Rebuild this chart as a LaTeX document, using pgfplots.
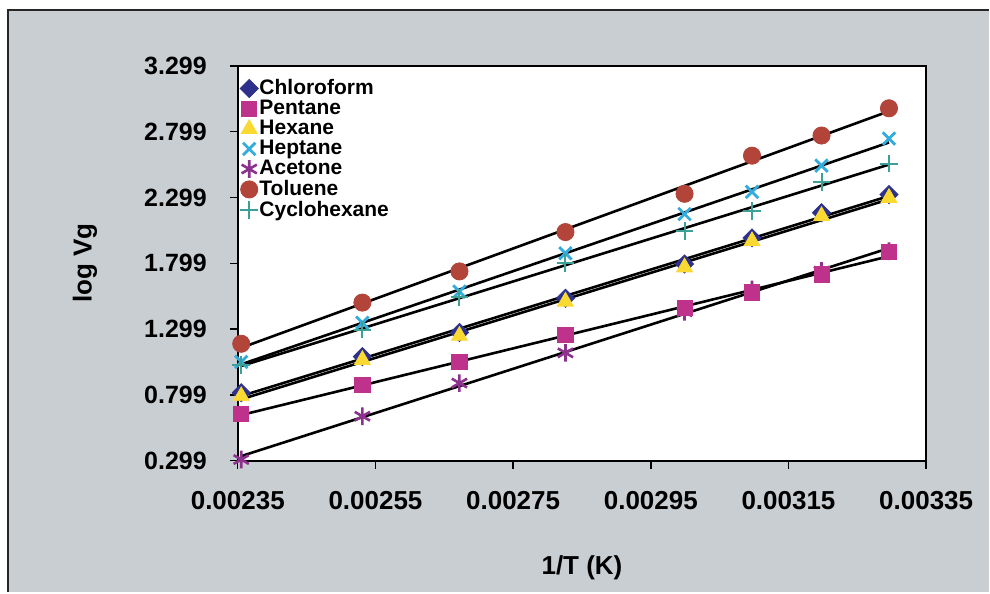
\documentclass[border=0pt]{standalone}
\usepackage{pgfplots}
\usepackage{pgfplotstable}
\pgfplotsset{compat=1.18}
\usepackage{fontspec}
\setmainfont{Liberation Sans}

\definecolor{bggray}{RGB}{201,206,211}
\definecolor{chlc}{RGB}{46,49,140}
\definecolor{penc}{RGB}{190,50,140}
\definecolor{hexc}{RGB}{250,218,50}
\definecolor{hepc}{RGB}{50,172,220}
\definecolor{acec}{RGB}{140,50,140}
\definecolor{tolc}{RGB}{178,68,58}
\definecolor{cycc}{RGB}{60,160,150}

% 1/T and log Vg for each solvent
\pgfplotstableread{
x        chl    pen    hex    hep    ace    tol    cyc
0.002355 0.814  0.651  0.789  1.049  0.307  1.187  1.026
0.002531 1.089  0.873  1.064  1.347  0.636  1.500  1.294
0.002672 1.273  1.049  1.248  1.584  0.888  1.737  1.539
0.002826 1.533  1.255  1.508  1.875  1.118  2.036  1.799
0.002999 1.793  1.462  1.768  2.173  1.430  2.327  2.043
0.003097 1.992  1.577  1.967  2.342  1.600  2.617  2.196
0.003198 2.183  1.714  2.158  2.541  1.740  2.770  2.418
0.003296 2.321  1.883  2.296  2.747  1.890  2.977  2.556
}\data

\begin{document}
\begin{tikzpicture}[x=1pt,y=1pt]
\fill[white] (0,0) rectangle (495,296.5);
\fill[bggray] (4,0) rectangle (495,291.5);
\draw[line width=0.9pt, black!85] (4,0) -- (4,291.5) -- (495,291.5);
\useasboundingbox (0,0) rectangle (495,296.5);

\begin{axis}[
    at={(119pt,66pt)}, anchor=south west,
    scale only axis,
    width=344.5pt, height=197.5pt,
    xmin=0.00235, xmax=0.00335,
    ymin=0.299, ymax=3.299,
    xtick={0.00235,0.00255,0.00275,0.00295,0.00315,0.00335},
    xticklabels={0.00235,0.00255,0.00275,0.00295,0.00315,0.00335},
    ytick={0.299,0.799,1.299,1.799,2.299,2.799,3.299},
    yticklabels={0.299,0.799,1.299,1.799,2.299,2.799,3.299},
    scaled ticks=false,
    tick align=outside,
    xtick pos=left, ytick pos=left,
    major tick length=4pt,
    every tick/.style={black, line width=0.7pt},
    axis line style={black, line width=1pt},
    axis background/.style={fill=white},
    /pgf/number format/assume math mode=true,
    xticklabel style={font=\bfseries\fontsize{13}{15}\selectfont, yshift=-8pt},
    yticklabel style={font=\bfseries\fontsize{12.5}{15}\selectfont, xshift=-8pt},
    xlabel={1/T (K)},
    ylabel={log Vg},
    every axis x label/.style={at={(axis description cs:0.5,-0.271)}, anchor=center,
        font=\bfseries\fontsize{13}{15}\selectfont},
    every axis y label/.style={at={(axis description cs:-0.222,0.5)}, rotate=90, anchor=center,
        font=\bfseries\fontsize{13}{15}\selectfont},
    legend style={at={(axis description cs:0.0,0.975)}, anchor=north west,
        draw=none, fill=none, inner sep=1pt, row sep=0.1pt,
        font=\bfseries\fontsize{10.5}{11}\selectfont,
        nodes={inner sep=0.6pt}},
    legend cell align=left,
    legend image code/.code={\draw[#1] plot coordinates {(5pt,0pt)};},
]
\addplot[only marks, mark=square*, mark size=3.2pt, mark options={rotate=45, fill=chlc, draw=chlc}] table[x=x,y=chl] {\data};
\addlegendentry{Chloroform}
\addplot[only marks, mark=square*, mark size=3.8pt, mark options={fill=penc, draw=penc}] table[x=x,y=pen] {\data};
\addlegendentry{Pentane}
\addplot[only marks, mark=triangle*, mark size=4.6pt, mark options={fill=hexc, draw=hexc}] table[x=x,y=hex] {\data};
\addlegendentry{Hexane}
\addplot[only marks, mark=x, mark size=4.4pt, mark options={draw=hepc, line width=1.4pt}] table[x=x,y=hep] {\data};
\addlegendentry{Heptane}
\addplot[only marks, mark=asterisk, mark size=4.4pt, mark options={draw=acec, line width=1.3pt}] table[x=x,y=ace] {\data};
\addlegendentry{Acetone}
\addplot[only marks, mark=*, mark size=4.3pt, mark options={fill=tolc, draw=tolc}] table[x=x,y=tol] {\data};
\addlegendentry{Toluene}
\addplot[only marks, mark=+, mark size=4.4pt, mark options={draw=cycc, line width=1pt}] table[x=x,y=cyc] {\data};
\addlegendentry{Cyclohexane}
% pentane squares sit above the acetone marks
\addplot[forget plot, only marks, mark=square*, mark size=3.8pt, mark options={fill=penc, draw=penc}] table[x=x,y=pen] {\data};

% linear trend lines
\foreach \c in {chl,pen,hex,hep,ace,tol,cyc}{
  \addplot[forget plot, no marks, black, line width=1.3pt] table[x=x, y={create col/linear regression={y=\c}}] {\data};
}
\end{axis}
\end{tikzpicture}
\end{document}
